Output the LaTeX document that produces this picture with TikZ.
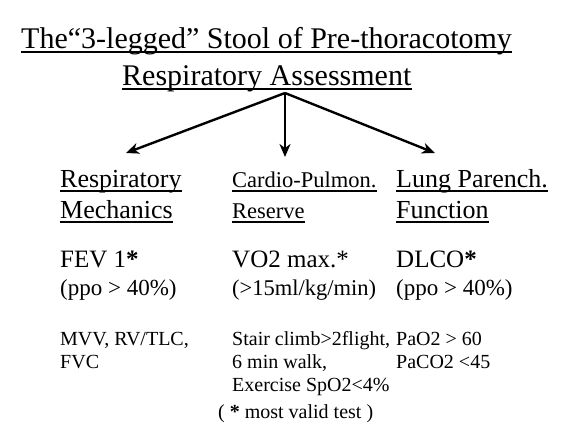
\documentclass[tikz,border=0pt]{standalone}
\usepackage{fontspec}
\setmainfont{Liberation Serif}
\usetikzlibrary{positioning,arrows.meta}

\tikzset{
    txt/.style={inner sep=0pt, anchor=base west},
    title/.style={txt, font=\fontsize{30}{34}\selectfont},
    head/.style={txt, font=\fontsize{26}{30}\selectfont},
    headsmall/.style={txt, font=\fontsize{22.5}{26}\selectfont},
    test/.style={txt, font=\fontsize{25}{28}\selectfont},
    crit/.style={txt, font=\fontsize{23}{26}\selectfont},
    small/.style={txt, font=\fontsize{20}{22}\selectfont},
    uline/.style={line width=1.3pt},
    leg/.style={line width=2.4pt, -{Stealth[length=13pt,width=11pt,inset=4pt]}}
}

\begin{document}
\begin{tikzpicture}[x=1pt, y=-1pt]
    \useasboundingbox (0,0) rectangle (567,445);

    % title
    \node (title1) [title] at (21,48) {The“3-legged” Stool of Pre-thoracotomy};
    \node (title2) [title] at (122,85) {Respiratory Assessment};

    % the three legs
    \coordinate (apex) at (285,93);
    \coordinate (legL) at (126,153);
    \coordinate (legM) at (285,157);
    \coordinate (legR) at (435,153);
    \draw [leg] (apex) -- (legL);
    \draw [leg] (apex) -- (legM);
    \draw [leg] (apex) -- (legR);

    % column headings
    \node (resp) [head] at (60,187) {Respiratory};
    \node (mech) [head, below=31pt of resp.base west, anchor=base west] {Mechanics};
    \node (cardio) [headsmall] at (232,187) {Cardio-Pulmon.};
    \node (reserve) [headsmall, below=31pt of cardio.base west, anchor=base west] {Reserve};
    \node (lung) [head] at (396,187) {Lung Parench.};
    \node (func) [head, below=31pt of lung.base west, anchor=base west] {Function};

    \foreach \n in {title1,title2,resp,mech,cardio,reserve,lung,func}
        \draw [uline] ([yshift=-4pt]\n.base west) -- ([yshift=-4pt]\n.base east);

    % best test
    \node (fev) [test, below=49pt of mech.base west, anchor=base west] {FEV 1\textbf{*}};
    \node (vo2) [test, below=49pt of reserve.base west, anchor=base west] {VO2 max.*};
    \node (dlco) [test, below=49pt of func.base west, anchor=base west] {DLCO\textbf{*}};

    % threshold
    \node (fevcrit) [crit, below=28pt of fev.base west, anchor=base west] {(ppo > 40\%)};
    \node (vo2crit) [headsmall, below=28pt of vo2.base west, anchor=base west] {(>15ml/kg/min)};
    \node (dlcocrit) [crit, below=28pt of dlco.base west, anchor=base west] {(ppo > 40\%)};

    % other tests
    \node (mvv) [small, below=50pt of fevcrit.base west, anchor=base west] {MVV, RV/TLC,};
    \node (fvc) [small, below=23pt of mvv.base west, anchor=base west] {FVC};
    \node (stair) [small, below=50pt of vo2crit.base west, anchor=base west] {Stair climb>2flight,};
    \node (walk) [small, below=23pt of stair.base west, anchor=base west] {6 min walk,};
    \node (spo2) [small, below=23pt of walk.base west, anchor=base west] {Exercise SpO2<4\%};
    \node (pao2) [small, below=50pt of dlcocrit.base west, anchor=base west] {PaO2 > 60};
    \node (paco2) [small, below=23pt of pao2.base west, anchor=base west] {PaCO2 <45};

    \node (note) [small] at (218,418) {( \textbf{*} most valid test )};
\end{tikzpicture}
\end{document}
